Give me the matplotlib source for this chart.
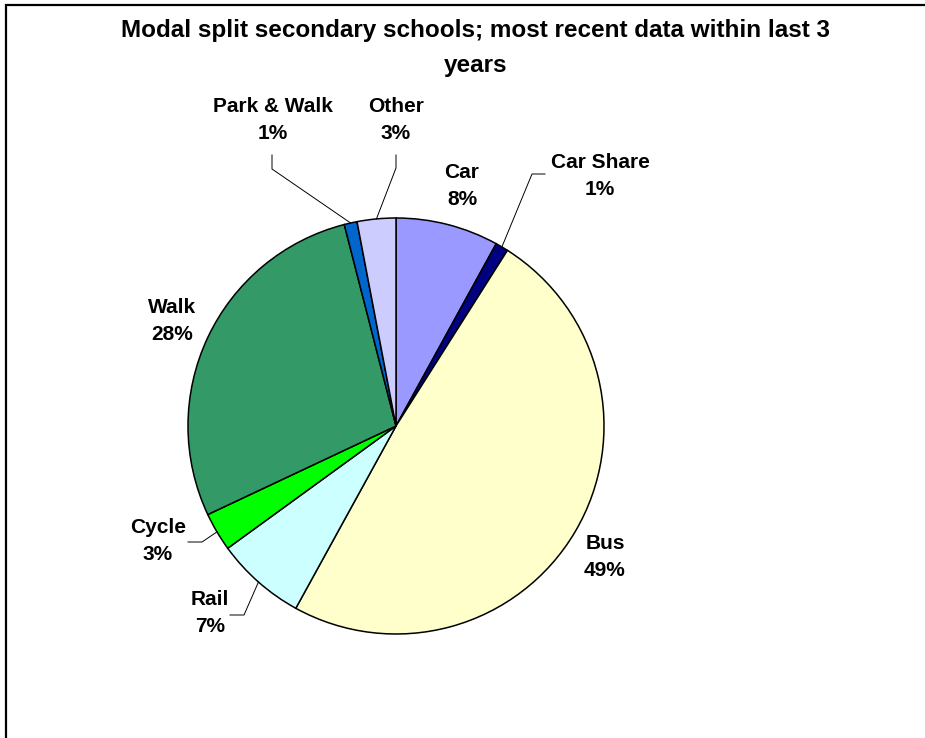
import numpy as np
import matplotlib
matplotlib.use('Agg')
import matplotlib.pyplot as plt
from matplotlib.patches import Rectangle

# travel mode shares, secondary schools (%)
modes = ['Car', 'Car Share', 'Bus', 'Rail', 'Cycle', 'Walk', 'Park & Walk', 'Other']
shares = [8, 1, 49, 7, 3, 28, 1, 3]
colours = ['#9999FF', '#000080', '#FFFFCC', '#CCFFFF', '#00FF00', '#339966', '#0066CC', '#CCCCFF']

# label centres and leader elbows in pixel coordinates of the figure
label_px = [(462, 186), (600, 176), (605, 557), (210, 613), (158, 541), (172, 321), (273, 120), (396, 120)]
leader_px = [None, [(545, 174), (532, 174)], None, [(230, 615), (244, 615)], [(188, 542), (202, 542)],
             None, [(272, 155), (272, 169)], [(396, 155), (396, 168)]]

W, H = 925, 738
cx, cy, r = 396, 426, 208

plt.rcParams['font.family'] = ['Liberation Sans', 'DejaVu Sans']
fig = plt.figure(figsize=(W / 100, H / 100), dpi=100)
fig.patch.set_facecolor('white')

ax = fig.add_axes([(cx - r) / W, (H - cy - r) / H, 2 * r / W, 2 * r / H])
wedges, _ = ax.pie(shares, colors=colours, startangle=90, counterclock=False,
                   wedgeprops=dict(edgecolor='black', linewidth=1.1))
ax.set_xlim(-1, 1)
ax.set_ylim(-1, 1)
ax.set_aspect('equal')
ax.axis('off')

def to_data(p):
    return ((p[0] - cx) / r, (cy - p[1]) / r)

for w, name, val, lp, leader in zip(wedges, modes, shares, label_px, leader_px):
    x, y = to_data(lp)
    ax.text(x, y, f'{name}\n{val}%', ha='center', va='center', fontsize=15,
            fontweight='bold', linespacing=1.55, clip_on=False)
    if leader is not None:
        mid = np.deg2rad((w.theta1 + w.theta2) / 2)
        pts = [to_data(p) for p in leader] + [(np.cos(mid), np.sin(mid))]
        ax.plot([p[0] for p in pts], [p[1] for p in pts], color='black', lw=0.7, clip_on=False)

# two-line title
fig.text(476 / W, 1 - 37 / H, 'Modal split secondary schools; most recent data within last 3',
         ha='center', va='baseline', fontsize=17.5, fontweight='bold')
fig.text(476 / W, 1 - 72 / H, 'years', ha='center', va='baseline', fontsize=17.5, fontweight='bold')

# chart area frame (runs off the right and bottom edges)
fig.add_artist(Rectangle((6 / W, -0.05), 1.2, 1.05 - 5 / H, transform=fig.transFigure,
                         fill=False, edgecolor='black', linewidth=1.6))

fig.savefig('out.png', dpi=100, facecolor='white')
